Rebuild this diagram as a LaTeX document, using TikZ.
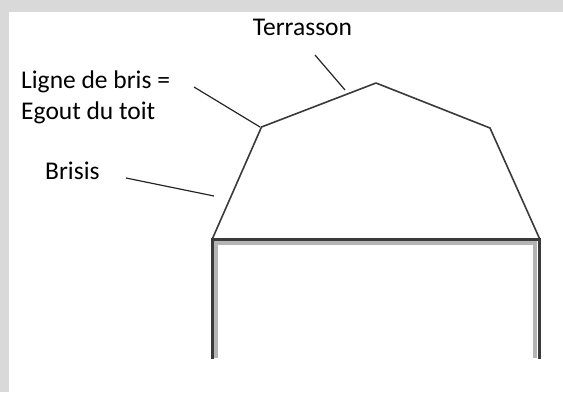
\documentclass[tikz,border=0pt]{standalone}
\usepackage{fontspec}
\setmainfont{Carlito}
\usetikzlibrary{positioning}
\definecolor{bordergrey}{HTML}{D9D9D9}
\definecolor{inkgrey}{HTML}{3A3A3A}
\definecolor{shadegrey}{HTML}{B4B4B4}

\begin{document}
\begin{tikzpicture}[x=1pt, y=-1pt,
    txt/.style={font=\fontsize{25.5}{31}\selectfont, inner sep=0pt,
        anchor=base west, text=black},
    leader/.style={draw=black!85, line width=1.2pt},
    roof/.style={draw=inkgrey, line width=1.6pt, line join=round},
    frame/.style={draw=inkgrey, line width=2.5pt},
    shade/.style={draw=shadegrey, line width=4pt}]

    \fill[bordergrey] (0,0) rectangle (563,392);
    \fill[white] (9,12) rectangle (563,392);
    \useasboundingbox (0,0) rectangle (563,392);

    % roof outline
    \coordinate (eaveL) at (212.5,238.5);
    \coordinate (brisL) at (261.5,127);
    \coordinate (peak)  at (376,83);
    \coordinate (brisR) at (490,128);
    \coordinate (eaveR) at (539.5,238.5);
    \draw[roof] (eaveL) -- (brisL) -- (peak) -- (brisR) -- (eaveR);

    % walls and beam
    \draw[shade] (215.5,358) -- (215.5,243) -- (535.3,243) -- (535.3,358);
    \draw[frame] (212.5,359) -- (212.5,239.5) -- (539.5,239.5) -- (539.5,359);

    % labels
    \node[txt, anchor=base] (terrasson) at (302.5,35) {Terrasson};
    \node[txt] (ligne) at (21,88) {Ligne de bris =};
    \node[txt] (egout) at ([yshift=-31pt]ligne.base west) {Egout du toit};
    \node[txt] (brisis) at (45,179) {Brisis};

    % leaders
    \coordinate (terrA) at (315,55);
    \coordinate (terrB) at (345,90);
    \coordinate (ligneA) at (194,87);
    \coordinate (ligneB) at (260,127);
    \coordinate (brisisA) at (126,178);
    \coordinate (brisisB) at (214,196);
    \draw[leader] (terrA) -- (terrB);
    \draw[leader] (ligneA) -- (ligneB);
    \draw[leader] (brisisA) -- (brisisB);

\end{tikzpicture}
\end{document}
